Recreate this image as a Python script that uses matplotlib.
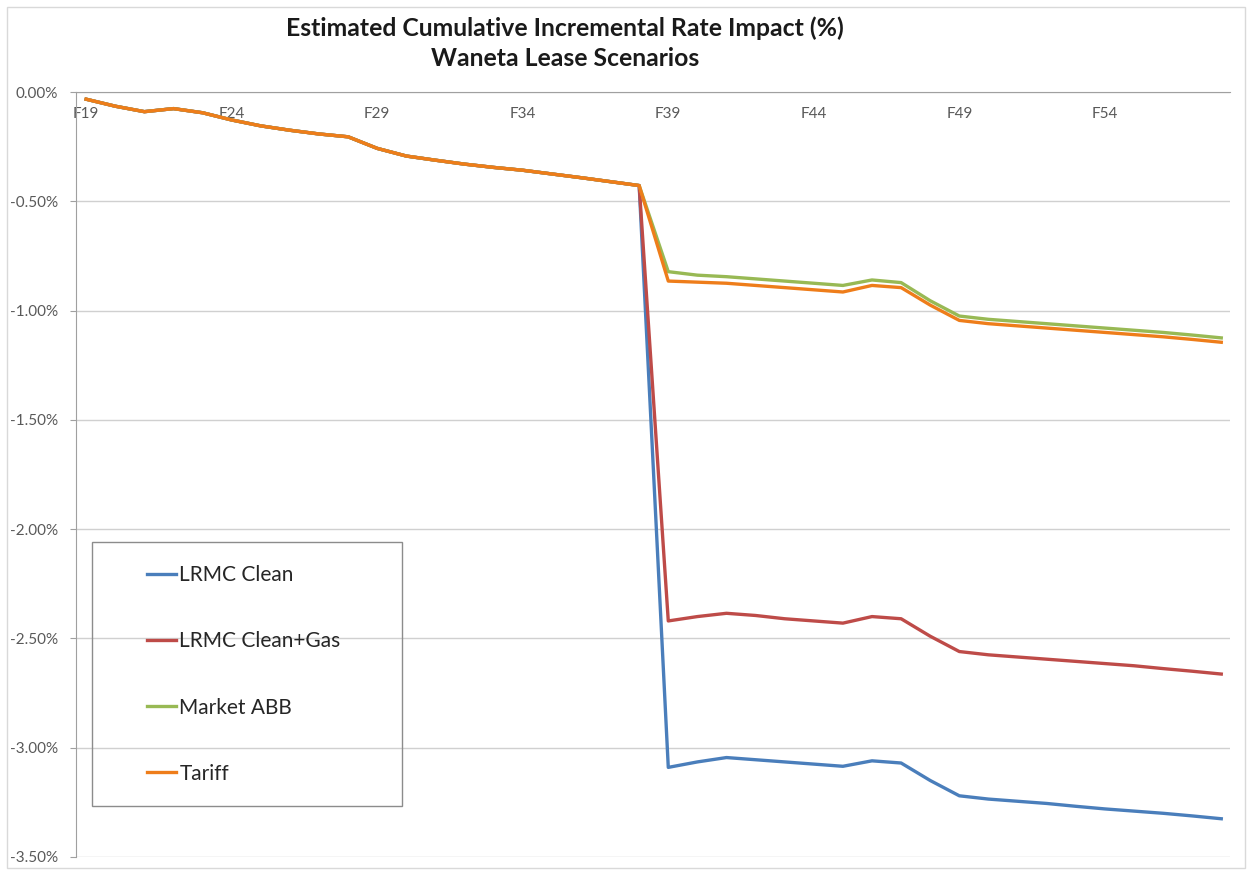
import numpy as np
import matplotlib
matplotlib.use("Agg")
import matplotlib.pyplot as plt
from matplotlib.patches import Rectangle
from matplotlib.ticker import FuncFormatter

plt.rcParams['font.family'] = ['Lato', 'DejaVu Sans']

# fiscal years F19..F58
years = ["F%d" % y for y in range(19, 59)]

# shared path up to F38 (%)
common = [-0.033, -0.065, -0.090, -0.076, -0.095, -0.128, -0.155, -0.175, -0.192, -0.205,
          -0.258, -0.293, -0.312, -0.330, -0.345, -0.358, -0.375, -0.392, -0.410, -0.428]

# F39..F58 for each scenario (%)
lrmc_clean_tail = [-3.090, -3.065, -3.045, -3.055, -3.065, -3.075, -3.085, -3.060, -3.070, -3.150,
                   -3.220, -3.235, -3.245, -3.255, -3.268, -3.280, -3.290, -3.300, -3.312, -3.325]
lrmc_gas_tail = [-2.420, -2.400, -2.385, -2.395, -2.410, -2.420, -2.430, -2.400, -2.410, -2.490,
                 -2.560, -2.575, -2.585, -2.595, -2.605, -2.615, -2.625, -2.638, -2.650, -2.663]
market_tail = [-0.822, -0.838, -0.845, -0.855, -0.865, -0.875, -0.885, -0.860, -0.872, -0.955,
               -1.025, -1.040, -1.050, -1.060, -1.070, -1.080, -1.090, -1.100, -1.112, -1.125]
tariff_tail = [-0.865, -0.870, -0.875, -0.885, -0.895, -0.905, -0.915, -0.885, -0.895, -0.975,
               -1.045, -1.060, -1.070, -1.080, -1.090, -1.100, -1.110, -1.120, -1.132, -1.145]

series_names = ["LRMC Clean", "LRMC Clean+Gas", "Market ABB", "Tariff"]
series_vals = [common + lrmc_clean_tail, common + lrmc_gas_tail,
               common + market_tail, common + tariff_tail]
colors = ["#4A7EBB", "#BE4B48", "#98B954", "#EE7D1A"]

W, H = 1252, 875
fig = plt.figure(figsize=(W / 100, H / 100), dpi=100)
ax = fig.add_axes([76 / W, 1 - 857 / H, (1230 - 76) / W, (857 - 92) / H])

x = np.arange(len(years))
for name, vals, c in zip(series_names, series_vals, colors):
    ax.plot(x, vals, color=c, lw=2.4, label=name, solid_joinstyle='round')

ax.set_ylim(-3.5, 0)
ax.set_xlim(-0.35, len(years) - 1 + 0.3)
ax.set_yticks(np.arange(-3.5, 0.01, 0.5))
ax.yaxis.set_major_formatter(FuncFormatter(lambda v, p: "%.2f%%" % v))
ax.grid(axis='y', color='#D0D0D0', lw=1)
ax.set_axisbelow(True)

# category labels just under the zero line
ax.set_xticks(x[::5])
ax.set_xticklabels(years[::5])
ax.xaxis.set_ticks_position('top')
ax.tick_params(axis='x', top=True, labeltop=True, bottom=False, labelbottom=False,
               length=0, pad=-21, labelsize=11, labelcolor='#595959')
ax.tick_params(axis='y', length=4, color='#A0A0A0', pad=9, labelsize=11, labelcolor='#595959')

for s in ['right', 'bottom']:
    ax.spines[s].set_visible(False)
ax.spines['left'].set_color('#A0A0A0')
ax.spines['top'].set_color('#A0A0A0')

fig.text(565 / W, 1 - 28 / H, "Estimated Cumulative Incremental Rate Impact (%)",
         ha='center', va='center', fontsize=17.8, fontweight='bold', color='#1A1A1A')
fig.text(565 / W, 1 - 58 / H, "Waneta Lease Scenarios",
         ha='center', va='center', fontsize=17.8, fontweight='bold', color='#1A1A1A')

# legend box
fig.patches.append(Rectangle((92 / W, 1 - 806 / H), (402 - 92) / W, (806 - 542) / H,
                             transform=fig.transFigure, fill=False, ec='#8C8C8C', lw=1))
fig.legend(loc='upper left', bbox_to_anchor=(147 / W, 1 - 565 / H), frameon=False,
           borderpad=0, borderaxespad=0, fontsize=15, labelspacing=2.22,
           handlelength=1.4, handletextpad=0.15, labelcolor='#262626')

# chart area border
fig.patches.append(Rectangle((7 / W, 7 / H), (1245 - 7) / W, (868 - 7) / H,
                             transform=fig.transFigure, fill=False, ec='#D9D9D9', lw=1))

fig.savefig("out.png", dpi=100)
